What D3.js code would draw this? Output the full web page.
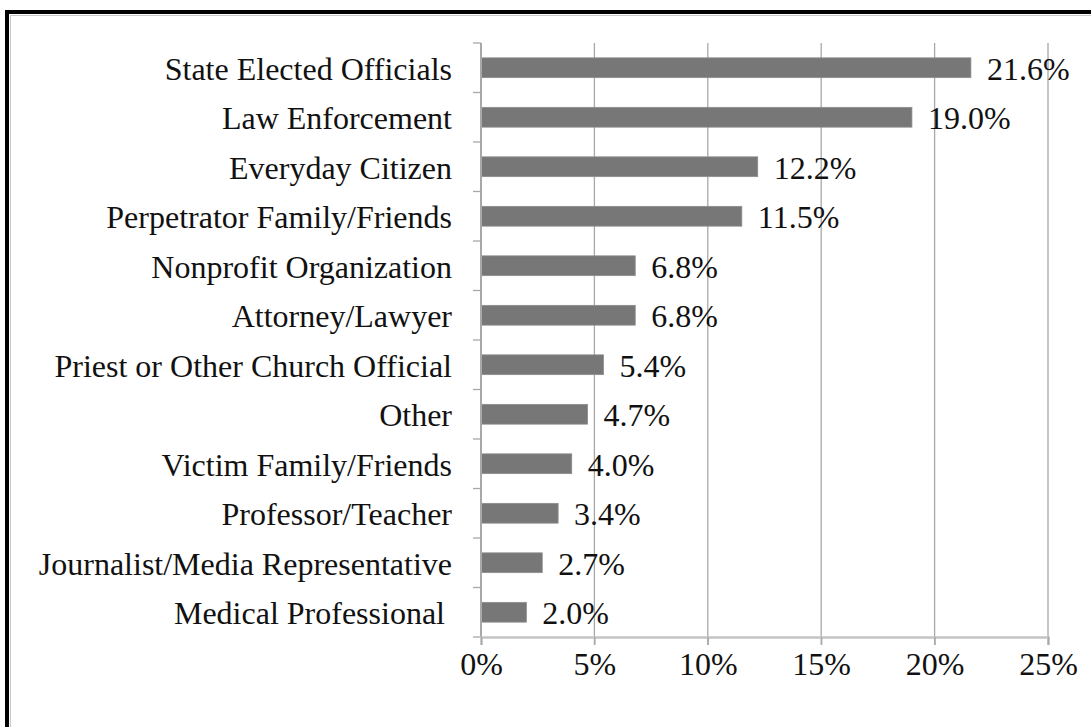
<!DOCTYPE html>
<html>
<head>
<meta charset="utf-8">
<script src="https://cdn.jsdelivr.net/npm/d3@7"></script>
<style>
  body { margin: 0; background: #fff; }
  svg { display: block; }
</style>
</head>
<body>
<div id="chart"></div>
<script>
const categories = [
    "State Elected Officials",
    "Law Enforcement",
    "Everyday Citizen",
    "Perpetrator Family/Friends",
    "Nonprofit Organization",
    "Attorney/Lawyer",
    "Priest or Other Church Official",
    "Other",
    "Victim Family/Friends",
    "Professor/Teacher",
    "Journalist/Media Representative",
    "Medical Professional"
];
const values = [21.6, 19.0, 12.2, 11.5, 6.8, 6.8, 5.4, 4.7, 4.0, 3.4, 2.7, 2.0];
const xTicks = [0, 5, 10, 15, 20, 25];

const width = 1091, height = 727;
const plotLeft = 481, plotRight = 1048, plotTop = 43, plotBottom = 637;
const font = "'Liberation Serif', 'Times New Roman', serif";
const fontSize = "32px";

const svg = d3.select("#chart").append("svg")
    .attr("width", width)
    .attr("height", height);

// frame (only top and left edges show in the crop)
svg.append("path")
    .attr("d", `M7,${height} V12 H${width}`)
    .attr("fill", "none")
    .attr("stroke", "#000")
    .attr("stroke-width", 4);
svg.append("path")
    .attr("d", `M10.5,${height} V15.5 H${width}`)
    .attr("fill", "none")
    .attr("stroke", "#c8c8c8")
    .attr("stroke-width", 1);

const x = d3.scaleLinear().domain([0, 25]).range([plotLeft, plotRight]);
const y = d3.scaleBand().domain(categories).range([plotTop, plotBottom])
    .paddingInner(0.6).paddingOuter(0.3);
const step = y.step();

// vertical gridlines
svg.append("g")
    .selectAll("line")
    .data(xTicks.slice(1))
    .join("line")
    .attr("x1", d => x(d)).attr("x2", d => x(d))
    .attr("y1", plotTop).attr("y2", plotBottom + 8)
    .attr("stroke", "#a8a8a8")
    .attr("stroke-width", 1.3);

// bars
svg.append("g")
    .selectAll("rect")
    .data(values)
    .join("rect")
    .attr("x", x(0))
    .attr("y", (d, i) => y(categories[i]))
    .attr("width", d => x(d) - x(0))
    .attr("height", y.bandwidth())
    .attr("fill", "#777777")
    .attr("stroke", "#8c8c8c")
    .attr("stroke-width", 0.8);

// left axis with category boundary ticks
const bounds = categories.map(c => y(c) - (step - y.bandwidth()) / 2).concat([plotBottom]);
const yAxis = svg.append("g");
yAxis.append("line")
    .attr("x1", plotLeft).attr("x2", plotLeft)
    .attr("y1", plotTop).attr("y2", plotBottom)
    .attr("stroke", "#a8a8a8")
    .attr("stroke-width", 2);
yAxis.selectAll("line.tick")
    .data(bounds)
    .join("line")
    .attr("class", "tick")
    .attr("x1", plotLeft - 8).attr("x2", plotLeft)
    .attr("y1", d => d).attr("y2", d => d)
    .attr("stroke", "#a8a8a8")
    .attr("stroke-width", 1.3);

// bottom axis
const xAxis = svg.append("g")
    .attr("transform", `translate(0,${plotBottom})`)
    .call(d3.axisBottom(x).tickValues(xTicks).tickFormat(d => d + "%")
        .tickSize(8).tickPadding(7));
xAxis.select(".domain")
    .attr("stroke", "#c4c4c4")
    .attr("stroke-width", 2.5);
xAxis.selectAll(".tick line")
    .attr("stroke", "#a8a8a8")
    .attr("stroke-width", 1.3);
xAxis.selectAll(".tick text")
    .attr("fill", "#111")
    .style("font-family", font)
    .style("font-size", fontSize);

// category labels
svg.append("g")
    .selectAll("text")
    .data(categories)
    .join("text")
    .attr("x", d => d === "Medical Professional" ? 445 : 452)
    .attr("y", d => y(d) + y.bandwidth() / 2 + 1)
    .attr("dy", "0.35em")
    .attr("text-anchor", "end")
    .attr("fill", "#111")
    .style("font-family", font)
    .style("font-size", fontSize)
    .text(d => d);

// value labels
svg.append("g")
    .selectAll("text")
    .data(values)
    .join("text")
    .attr("x", d => x(d) + 16)
    .attr("y", (d, i) => y(categories[i]) + y.bandwidth() / 2 + 1)
    .attr("dy", "0.35em")
    .attr("fill", "#111")
    .style("font-family", font)
    .style("font-size", fontSize)
    .text(d => d.toFixed(1) + "%");
</script>
</body>
</html>
